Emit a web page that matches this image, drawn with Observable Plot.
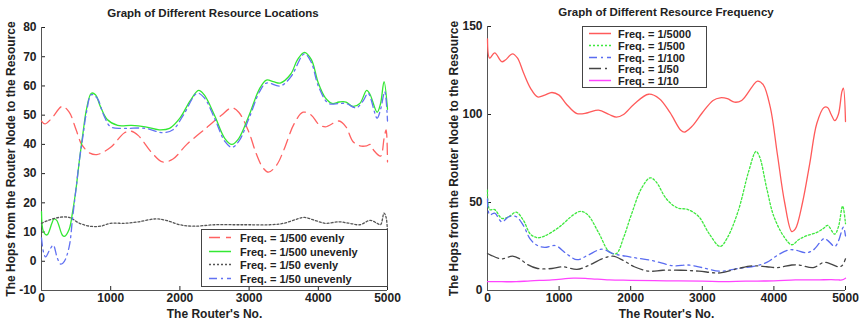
<!DOCTYPE html>
<html><head><meta charset="utf-8">
<script src="https://cdn.jsdelivr.net/npm/d3@7"></script>
<script src="https://cdn.jsdelivr.net/npm/@observablehq/plot@0.6"></script>
<style>
body{margin:0;background:#fff;}
#wrap{position:relative;width:863px;height:322px;font-family:"Liberation Sans",Arial,sans-serif;font-weight:bold;color:#222;overflow:hidden;}
.panel{position:absolute;top:0;}
.title{position:absolute;font-size:11.5px;white-space:nowrap;transform:translateX(-50%);}
.legend{position:absolute;border:1px solid #444;background:#fff;font-size:11px;box-sizing:border-box;}
.row{position:absolute;left:0;height:13px;display:flex;align-items:center;white-space:nowrap;}
.row svg{flex:none;}
</style></head>
<body><div id="wrap"></div>
<script>
// ---------- Data: left panel (Graph of Different Resource Locations) ----------
const xTicks = [0, 1000, 2000, 3000, 4000, 5000];
const leftYTicks = [-10, 0, 10, 20, 30, 40, 50, 60, 70, 80];
const rightYTicks = [0, 50, 100, 150];

const leftNames = ["Freq. = 1/500 evenly", "Freq. = 1/500 unevenly", "Freq. = 1/50 evenly", "Freq. = 1/50 unevenly"];

const l500evenX = [0,50,150,300,400,500,580,700,800,1000,1200,1300,1400,1600,1750,1900,2100,2400,2600,2750,2850,3000,3100,3200,3280,3400,3500,3650,3780,3900,4000,4100,4300,4400,4500,4600,4700,4750,4800,4900,4950,4980,5000];
const l500evenY = [48,47,49,53,51,45,40,37,36.5,39,44,44.5,43,37,34,35,40,46,50,52.5,51,44,37,32,30.5,33,38,47,51,50,47,46,48,46,41,39.5,39.5,40,38,36,42,45,34];

const l500unevenX = [0,30,80,150,180,220,300,330,400,450,500,550,600,650,720,780,850,950,1100,1300,1500,1700,1850,2000,2150,2270,2350,2500,2650,2750,2850,3000,3150,3250,3350,3450,3600,3700,3800,3900,4000,4100,4200,4300,4400,4500,4600,4700,4750,4850,4900,4950,5000];
const l500unevenY = [17,10,9,13,14.5,14,9,8.5,11,17,25,35,44,52,57.5,57,53,48.5,46.5,46.5,46,45,45.5,49,55,58.5,57,50,42,40,42,50,59,62,61.5,61,64,69,71.5,69,61,56,54,54.5,54.5,53,54,58.5,57,51,54,61.5,52];

const l50evenX = [0,100,250,400,550,700,850,1000,1200,1400,1650,1800,2000,2200,2500,2800,3000,3300,3500,3700,3800,3950,4100,4300,4450,4600,4750,4850,4900,4950,4980,5000];
const l50evenY = [13,14,15,15,13,12,12,13,13,13.5,14.5,14,12.5,12,12.5,12.5,12.5,12.5,13,14.5,15,14,13,13.5,13,12.5,14,13,12.5,16.5,15,10];

const l50unevenX = [0,30,60,120,170,230,280,330,400,450,500,550,600,650,720,800,900,1000,1200,1500,1750,1900,2050,2250,2350,2500,2650,2750,2850,3000,3150,3250,3450,3600,3800,3900,4000,4150,4300,4400,4550,4650,4720,4850,4900,4960,5000];
const l50unevenY = [8,3,1.5,4,5.5,1,-1,0,5,15,25,35,43,51,57,56,50,46,45.5,45.5,44,45,50,57.5,56,49,41,39,41,49,58,61,60,63,71,68,60,54,54,54,52.5,55,57.5,49,52,58,48];

// ---------- Data: right panel (Graph of Different Resource Frequency) ----------
const rightNames = ["Freq. = 1/5000", "Freq. = 1/500", "Freq. = 1/100", "Freq. = 1/50", "Freq. = 1/10"];

const r5000X = [0,30,100,200,250,350,420,500,600,700,800,900,1000,1100,1250,1400,1550,1700,1800,1900,2050,2250,2400,2550,2700,2750,2850,3000,3150,3250,3350,3450,3550,3700,3770,3850,3950,4050,4150,4250,4300,4400,4500,4600,4700,4750,4800,4850,4900,4950,4970,5000];
const r5000Y = [143,132,135,130,131,134.5,132,124,115,110,111,112.5,111,106,100.5,101,102.5,100,98.5,100,106,111.5,109,101,91,90,93,101,108,109.5,109,107,108,116,119,117,104,77,50,33.5,35,50,72,95,104,104,100,96.5,100,113,115,96];

const r500X = [0,30,100,200,300,400,500,600,700,800,1000,1200,1300,1400,1550,1700,1800,1900,2000,2150,2270,2350,2500,2650,2800,2950,3100,3250,3350,3500,3650,3750,3800,3900,4000,4150,4250,4350,4450,4600,4700,4750,4850,4900,4960,5000];
const r500Y = [57,46,46,41,42,44.5,40,32,30,31,36,43,45,43,33,22,21,30,42,58,64,62,52,47,46,42,32,25,30,45,68,79,76,58,42,30,26,29,31,33,35.5,37,32,36,48,38];

const r100X = [0,30,100,200,300,400,500,600,700,800,950,1100,1250,1400,1600,1750,2000,2300,2600,2800,3000,3250,3500,3750,3900,4050,4200,4300,4450,4550,4700,4750,4850,4900,4970,5000];
const r100Y = [52,43,44,39,42,42,37,29,25.5,24.5,25.5,21,17.5,20,23.5,21,19,17,14,14.5,13,11,12.5,14,16,20,23,23,21.5,23,29.5,28.5,25,28,36,31];

const r50X = [0,50,200,350,450,550,700,900,1050,1250,1400,1600,1750,1900,2050,2250,2450,2700,2950,3250,3500,3700,3900,4050,4250,4350,4550,4700,4800,4900,4950,5000];
const r50Y = [21,20,18,19.5,18,15,12.5,12.5,13.5,12,14,18,19.5,17,13.5,11,11.5,11.5,11,10,12.5,14,13.5,13,14.5,14.5,13,16,15,13.5,14,18];

const r10X = [0,200,400,600,900,1200,1400,1700,2000,2500,3000,3300,3600,4000,4300,4600,4800,4900,4950,5000];
const r10Y = [5,5,5,5.5,6,7,6.8,6,5.8,5.5,5.3,5,5.3,5.5,6,6,6.2,6,6,7];

// ---------- Styles ----------
const leftStyles = [
  {stroke: "#ff6262", dash: "11,6"},
  {stroke: "#33e833", dash: null},
  {stroke: "#555555", dash: "2,2"},
  {stroke: "#6272f2", dash: "8,4,2,4"}
];
const rightStyles = [
  {stroke: "#ff5a5a", dash: null},
  {stroke: "#3ee83e", dash: "2,2"},
  {stroke: "#5a6cf0", dash: "8,4,2,4"},
  {stroke: "#444444", dash: "12,4,2,4"},
  {stroke: "#ff44ff", dash: null}
];
const leftSeries = [[l500evenX,l500evenY],[l500unevenX,l500unevenY],[l50evenX,l50evenY],[l50unevenX,l50unevenY]];
const rightSeries = [[r5000X,r5000Y],[r500X,r500Y],[r100X,r100Y],[r50X,r50Y],[r10X,r10Y]];

const FONT = '"Liberation Sans", Arial, sans-serif';

function makePanel({width, mL, mR, mT, mB, yDomain, yTicks, series, styles, yLabelOffset}) {
  const marks = [
    Plot.ruleX([0], {stroke: "#555"}),
    Plot.ruleY([yDomain[0]], {stroke: "#555"})
  ];
  series.forEach(([xs, ys], i) => {
    const data = xs.map((x, j) => ({x, y: ys[j]}));
    marks.push(Plot.line(data, {x: "x", y: "y", stroke: styles[i].stroke,
      strokeDasharray: styles[i].dash || undefined, strokeWidth: 1.3, curve: "catmull-rom"}));
  });
  return Plot.plot({
    width, height: 322, marginLeft: mL, marginRight: mR, marginTop: mT, marginBottom: mB,
    style: {fontFamily: FONT, fontSize: "12px", fontWeight: "bold", color: "#222", background: "transparent", overflow: "visible"},
    x: {domain: [0, 5000], ticks: xTicks, tickFormat: d => String(d), tickSize: -4, tickPadding: 7,
        label: "The Router's No.", labelAnchor: "center", labelArrow: "none", labelOffset: 27},
    y: {domain: yDomain, ticks: yTicks, tickFormat: d => String(d), tickSize: -4, tickPadding: 9,
        label: "The Hops from the Router Node to the Resource", labelAnchor: "center", labelArrow: "none", labelOffset: yLabelOffset},
    marks
  });
}

const wrap = document.getElementById("wrap");

const left = makePanel({width: 430, mL: 41, mR: 43, mT: 27, mB: 32, yDomain: [-10, 80], yTicks: leftYTicks,
  series: leftSeries, styles: leftStyles, yLabelOffset: 35});
left.classList.add("panel"); left.style.left = "0px";
wrap.appendChild(left);

const right = makePanel({width: 433, mL: 57, mR: 18, mT: 26, mB: 32, yDomain: [0, 150], yTicks: rightYTicks,
  series: rightSeries, styles: rightStyles, yLabelOffset: 38});
right.classList.add("panel"); right.style.left = "430px";
wrap.appendChild(right);

function addTitle(text, cx, top) {
  const d = document.createElement("div");
  d.className = "title"; d.textContent = text;
  d.style.left = cx + "px"; d.style.top = top + "px";
  wrap.appendChild(d);
}
addTitle("Graph of Different Resource Locations", 213, 7);
addTitle("Graph of Different Resource Frequency", 666, 6);

function addLegend(names, styles, box, sampleX, sampleW, textX, rowYs) {
  const lg = document.createElement("div");
  lg.className = "legend";
  Object.assign(lg.style, {left: box.x + "px", top: box.y + "px", width: box.w + "px", height: box.h + "px"});
  names.forEach((n, i) => {
    const row = document.createElement("div");
    row.className = "row";
    row.style.top = (rowYs[i] - box.y - 7) + "px";
    const svgNS = "http://www.w3.org/2000/svg";
    const s = document.createElementNS(svgNS, "svg");
    s.setAttribute("width", textX - box.x);
    s.setAttribute("height", 13);
    const ln = document.createElementNS(svgNS, "line");
    ln.setAttribute("x1", sampleX - box.x); ln.setAttribute("x2", sampleX - box.x + sampleW);
    ln.setAttribute("y1", 6.5); ln.setAttribute("y2", 6.5);
    ln.setAttribute("stroke", styles[i].stroke); ln.setAttribute("stroke-width", 1.5);
    if (styles[i].dash) ln.setAttribute("stroke-dasharray", styles[i].dash);
    s.appendChild(ln);
    row.appendChild(s);
    const t = document.createElement("span"); t.textContent = n;
    row.appendChild(t);
    lg.appendChild(row);
  });
  wrap.appendChild(lg);
}
addLegend(leftNames, leftStyles, {x: 201, y: 229, w: 187, h: 58}, 208, 22, 239, [237, 251, 264, 278]);
addLegend(rightNames, rightStyles, {x: 582, y: 26, w: 125, h: 62}, 588, 22, 617, [33, 45, 57, 68, 80]);
</script></body></html>
